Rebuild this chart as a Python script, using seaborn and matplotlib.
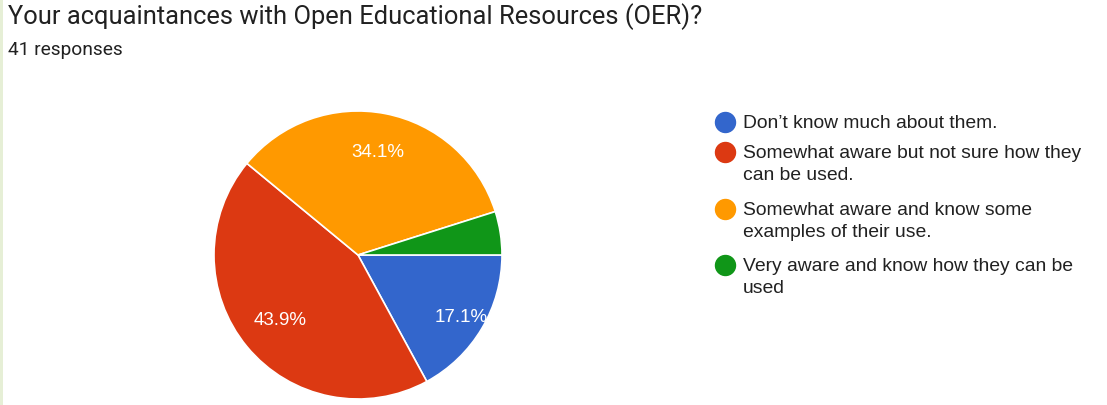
import numpy as np
import matplotlib.pyplot as plt
import seaborn as sns
from matplotlib.patches import Rectangle

# data
TITLE = "Your acquaintances with Open Educational Resources (OER)?"
SUBTITLE = "41 responses"
categories = [
    "Don\u2019t know much about them.",
    "Somewhat aware but not sure how they\ncan be used.",
    "Somewhat aware and know some\nexamples of their use.",
    "Very aware and know how they can be\nused",
]
counts = [7, 18, 14, 2]
colors = ["#3366cc", "#dc3912", "#ff9900", "#109618"]

sns.set_theme(style="white")
plt.rcParams["font.family"] = ["Roboto", "DejaVu Sans"]
ARIAL = ["Liberation Sans", "DejaVu Sans"]

W, H = 1107, 406
fig = plt.figure(figsize=(W / 100, H / 100), dpi=100)
fig.patch.set_facecolor("white")

# light green strip on the left edge
fig.patches.append(Rectangle((0, 0), 3 / W, 1, transform=fig.transFigure,
                             facecolor="#e6efd6", edgecolor="none"))

fig.text(8 / W, 1 - 17 / H, TITLE, fontsize=18.4, color="#212121", va="center", ha="left")
fig.text(8 / W, 1 - 50 / H, SUBTITLE, fontsize=13.8, color="#212121", va="center", ha="left")

# pie: centre (358, 256), radius 144 px
cx, cy, r = 358, 256, 144
ax = fig.add_axes([(cx - r) / W, (H - cy - r) / H, 2 * r / W, 2 * r / H])
pal = sns.color_palette(colors)
wedges, texts, autotexts = ax.pie(
    counts, colors=pal, startangle=0, counterclock=False,
    autopct=lambda p: f"{p:.1f}%" if p > 6 else "",
    pctdistance=0.76, radius=1,
    wedgeprops=dict(edgecolor="white", linewidth=1.2),
    textprops=dict(color="white", fontsize=13.5, family=ARIAL),
)
# google-style label distances from the centre
label_dist = [0.83, 0.70, 0.73, 0.76]
for w, t, d in zip(wedges, autotexts, label_dist):
    mid = np.deg2rad((w.theta1 + w.theta2) / 2)
    t.set_position((d * np.cos(mid), d * np.sin(mid)))
ax.set_xlim(-1, 1)
ax.set_ylim(-1, 1)
ax.set_aspect("equal")
ax.axis("off")

# legend drawn by hand so the marker sits on the first line
ys = [123, 153, 210, 266]
for lab, col, y in zip(categories, colors, ys):
    fig.lines.append(plt.Line2D([725 / W], [1 - y / H], transform=fig.transFigure,
                                marker="o", markersize=14.4, color=col, linestyle="none"))
    fig.text(743 / W, 1 - (y - 8) / H, lab, fontsize=13.9, color="#212121",
             va="top", ha="left", linespacing=1.36, family=ARIAL)

fig.savefig("out.png", dpi=100)
